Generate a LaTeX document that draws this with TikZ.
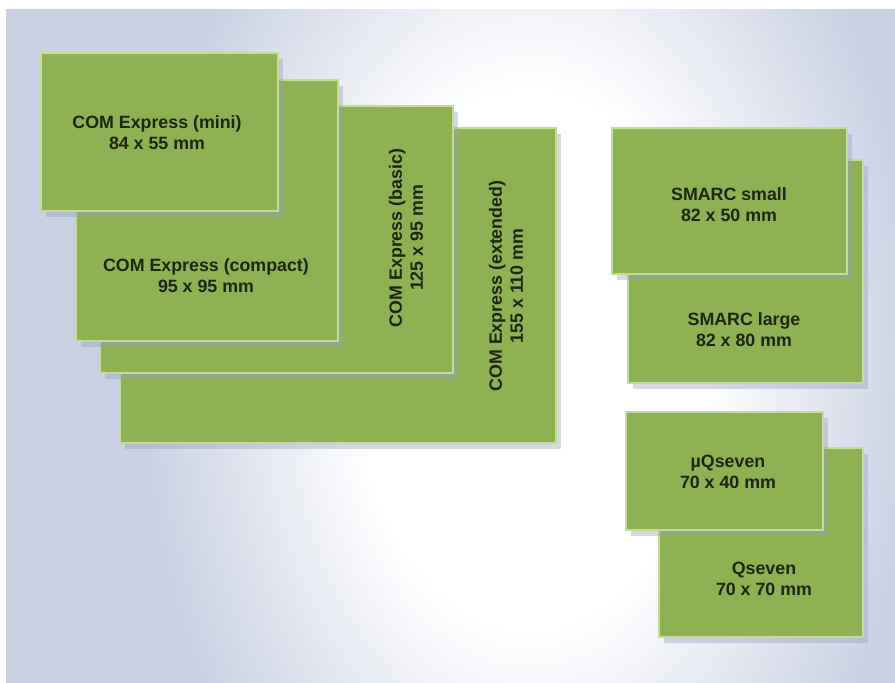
\documentclass[tikz,border=0pt]{standalone}
\usepackage{fontspec}
\setmainfont{Liberation Sans}
\usetikzlibrary{shadows}
\definecolor{bgc}{RGB}{201,208,226}
\definecolor{boxg}{RGB}{141,177,83}
\definecolor{boxedge}{RGB}{196,220,152}
\definecolor{txt}{RGB}{28,38,16}
\definecolor{shd}{RGB}{150,160,190}
\pgfdeclareradialshading{glow}{\pgfpoint{0bp}{0bp}}{color(0bp)=(white); color(11bp)=(white); color(25bp)=(bgc); color(50bp)=(bgc)}
\begin{document}
\begin{tikzpicture}[x=1pt,y=-1pt,
  board/.style={draw=boxedge, line width=1.2pt, fill=boxg, anchor=north west,
    inner sep=0pt, outer sep=0pt,
    drop shadow={shadow xshift=5pt, shadow yshift=-6pt, opacity=0.4, fill=shd}},
  lbl/.style={font=\bfseries\fontsize{17.8}{21}\selectfont, text=txt, align=center, inner sep=0pt}]
\useasboundingbox (0,0) rectangle (895,683);
\fill[white] (0,0) rectangle (895,683);
\begin{scope}
  \clip (6,9) rectangle (895,683);
  \fill[bgc] (6,9) rectangle (895,683);
  \shade[shading=glow] (530,360) ellipse [x radius=390, y radius=600];
\end{scope}
% COM Express family
\node[board, minimum width=436pt, minimum height=315pt] (ext) at (120,128) {};
\node[board, minimum width=353pt, minimum height=267pt] (basic) at (100,106) {};
\node[board, minimum width=262pt, minimum height=261pt] (compact) at (76,80) {};
\node[board, minimum width=237pt, minimum height=158pt] (mini) at (41,53) {};
% SMARC
\node[board, minimum width=235pt, minimum height=223pt] (smarcL) at (628,160) {};
\node[board, minimum width=235pt, minimum height=146pt] (smarcS) at (612,128) {};
% Qseven
\node[board, minimum width=204pt, minimum height=189pt] (qseven) at (659,448) {};
\node[board, minimum width=197pt, minimum height=118pt] (uq) at (626,412) {};
% labels
\node[lbl] (tmini) at (157,133) {COM Express (mini)\\84 x 55 mm};
\node[lbl] (tcompact) at (206,276) {COM Express (compact)\\95 x 95 mm};
\node[lbl, rotate=90] (tbasic) at (406,238) {COM Express (basic)\\125 x 95 mm};
\node[lbl, rotate=90] (text) at (506,286) {COM Express (extended)\\155 x 110 mm};
\node[lbl] (tsmarcS) at (729,205) {SMARC small\\82 x 50 mm};
\node[lbl] (tsmarcL) at (744,330) {SMARC large\\82 x 80 mm};
\node[lbl] (tuq) at (728,472) {µQseven\\70 x 40 mm};
\node[lbl] (tqseven) at (764,579) {Qseven\\70 x 70 mm};
\end{tikzpicture}
\end{document}
